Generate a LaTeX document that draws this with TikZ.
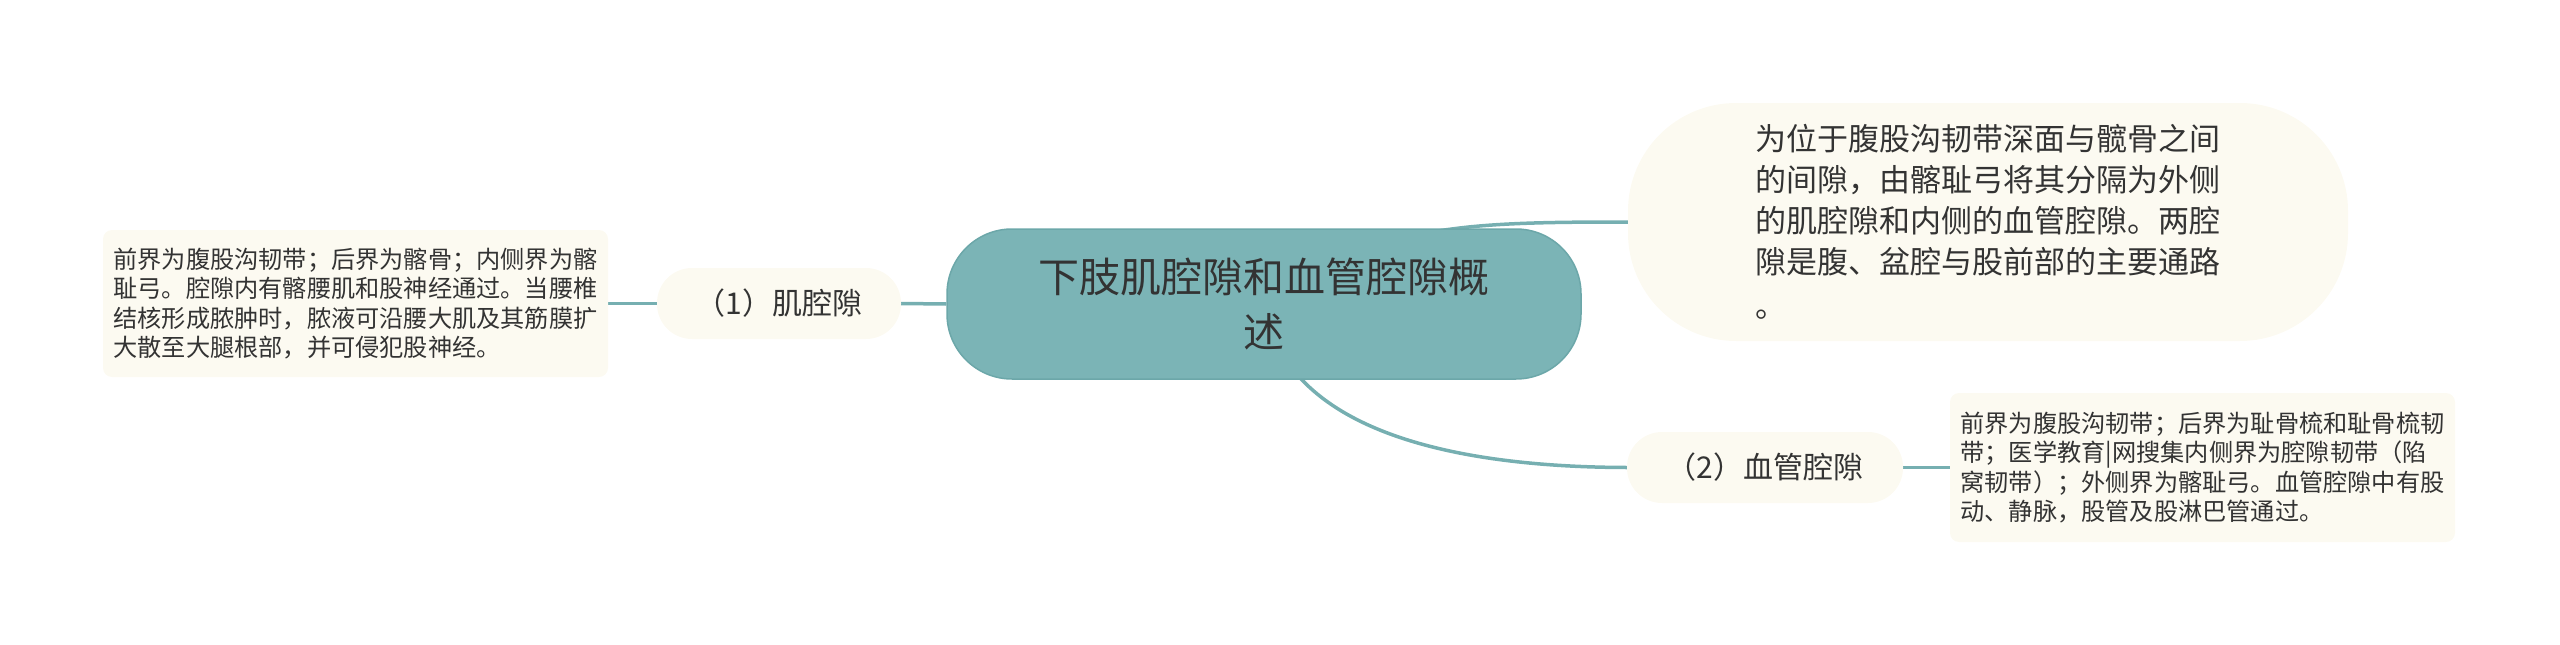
\documentclass[tikz,border=0pt]{standalone}
\usepackage{fontspec}
\setmainfont{Noto Sans CJK SC}
\definecolor{mmTeal}{HTML}{7BB4B6}
\definecolor{mmTealDark}{HTML}{6CA7A9}
\definecolor{mmLine}{HTML}{76AFB1}
\definecolor{mmCream}{HTML}{FCFAF1}
\definecolor{mmText}{HTML}{333333}
\pgfdeclarelayer{background}
\pgfsetlayers{background,main}
\tikzset{
  rootbox/.style={fill=mmTeal, draw=mmTealDark, line width=1.5pt, rounded corners=65pt,
    minimum width=634pt, minimum height=150pt, inner sep=0pt, align=center,
    text=mmText, font=\fontsize{41}{55}\selectfont},
  subbox/.style={fill=mmCream, rounded corners=35pt, minimum height=71pt, inner sep=0pt,
    text=mmText, font=\fontsize{30}{36}\selectfont},
  leafbox/.style={fill=mmCream, rounded corners=9pt, inner sep=0pt, align=left,
    text=mmText, font=\fontsize{24.2}{29.5}\selectfont},
  bigleaf/.style={fill=mmCream, rounded corners=108pt, minimum width=720pt,
    minimum height=238pt, inner sep=0pt, align=left, text=mmText,
    font=\fontsize{31}{41}\selectfont},
  conn/.style={draw=mmLine, line width=3.5pt}
}
\begin{document}
\begin{tikzpicture}[x=1pt,y=-1pt]
\useasboundingbox (0,0) rectangle (2560,645);
\node[rootbox] (root) at (1264,304) {下肢肌腔隙和血管腔隙概\\述};
\node[subbox, minimum width=244pt] (n1) at (779,303.5) {（1）肌腔隙};
\node[leafbox, minimum width=505pt, minimum height=147pt] (t1) at (355.5,303.5) {前界为腹股沟韧带；后界为髂骨；内侧界为髂\\耻弓。腔隙内有髂腰肌和股神经通过。当腰椎\\结核形成脓肿时，脓液可沿腰大肌及其筋膜扩\\大散至大腿根部，并可侵犯股神经。};
\node[bigleaf] (desc) at (1988,222) {为位于腹股沟韧带深面与髋骨之间\\的间隙，由髂耻弓将其分隔为外侧\\的肌腔隙和内侧的血管腔隙。两腔\\隙是腹、盆腔与股前部的主要通路\\[3pt]。};
\node[subbox, minimum width=276pt] (n2) at (1765,467.5) {（2）血管腔隙};
\node[leafbox, minimum width=505pt, minimum height=149pt] (t2) at (2202.5,467.5) {前界为腹股沟韧带；后界为耻骨梳和耻骨梳韧\\带；医学教育|网搜集内侧界为腔隙韧带（陷\\窝韧带）；外侧界为髂耻弓。血管腔隙中有股\\动、静脉，股管及股淋巴管通过。};
\begin{pgfonlayer}{background}
\draw[conn] (root.west) -- (n1.east);
\draw[conn] (n1.west) -- (t1.east);
\draw[conn] (root.center) .. controls (1380,226) and (1450,222) .. (desc.west);
\draw[conn] (root.center) .. controls (1285,430) and (1450,467) .. (n2.west);
\draw[conn] (n2.east) -- (t2.west);
\end{pgfonlayer}
\end{tikzpicture}
\end{document}
